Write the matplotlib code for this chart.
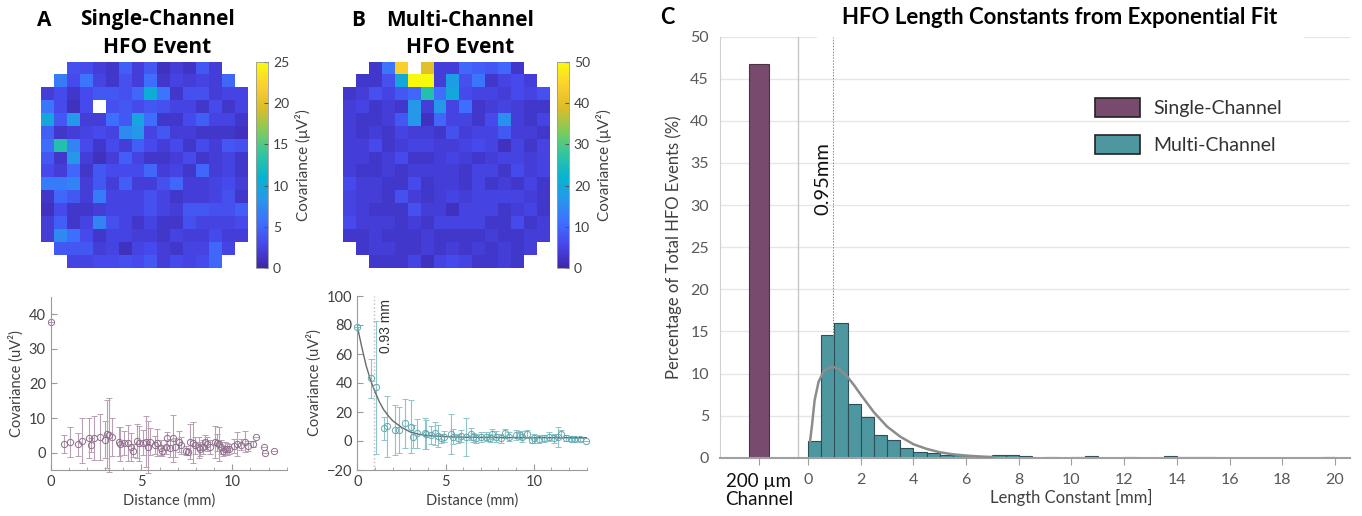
import numpy as np
import matplotlib
matplotlib.use('Agg')
import matplotlib.pyplot as plt
from matplotlib.colors import LinearSegmentedColormap
from matplotlib.patches import Patch
from matplotlib.ticker import MultipleLocator

plt.rcParams['font.family'] = ['Lato', 'DejaVu Sans']

nan = np.nan

# ---- panel A / B heatmaps (16x16 electrode grid, corners empty) ----
single_map = [
    [nan, nan, 3.5, 3, 2, 1.5, 4.5, 2, 4, 1, 2, 1.2, 4, 2, nan, nan],
    [nan, 6.5, 3, 6, 2.5, 1.5, 3.5, 2, 5.5, 1.5, 2.5, 2, 2.5, 2, 5, nan],
    [2, 3, 1.5, 3, 4, 4, 3.5, 5, 10.5, 6, 1.5, 3.5, 3.5, 2, 2.5, 2.5],
    [6, 3, 1, 3, nan, 3.5, 4, 3, 4, 3.5, 2.5, 2.5, 1.5, 3, 1.5, 2.5],
    [10, 4, 8.5, 2, 2, 5.5, 4, 9.5, 5.5, 1.5, 1.5, 3, 4.5, 2.5, 2.5, 1.5],
    [4.5, 1.5, 2, 2.5, 3, 2.5, 7.5, 8.5, 2.5, 4, 2, 2, 1.5, 1.5, 1.5, 1],
    [5.5, 13, 7, 3, 1.5, 3, 2, 4.5, 3, 2, 3, 1.5, 3, 2, 4, 3.5],
    [4, 1.5, 8.5, 2, 1, 2, 4.5, 2.5, 1.5, 1.5, 2, 3, 1.5, 2, 2.5, 1.5],
    [3, 2, 5, 1.5, 4, 3, 3, 3, 5, 2, 2.5, 1.5, 5, 2, 2.5, 1.5],
    [6.5, 6.5, 7, 2, 4, 2, 4.5, 2, 2, 3.5, 5, 2, 2, 2.5, 3, 2],
    [1.5, 5, 4, 2, 6.5, 2.5, 2.5, 2.5, 3.5, 2.5, 1.5, 2, 2, 2.5, 3.5, 1.5],
    [1, 3, 1.5, 1.5, 2, 2.5, 2.5, 2.5, 3.5, 2.5, 2, 4, 4, 3.5, 3.5, 4.5],
    [2, 4.5, 1.5, 2.5, 7, 3.5, 2.5, 1.5, 2.5, 1.5, 1.5, 3.5, 2.5, 2.5, 2.5, 3],
    [2, 7.5, 5.5, 3, 1.5, 2.5, 2.5, 2, 2, 1.5, 2.5, 2, 2, 3, 2, 2],
    [nan, 4, 4, 4, 2, 2.5, 1, 2.5, 3, 2, 1.5, 2.5, 2.5, 5, 2.5, nan],
    [nan, nan, 2.5, 2.5, 3, 3, 3.5, 3, 4, 2, 3, 2.5, 3, 5, nan, nan],
]

multi_map = [
    [nan, nan, 3, 12, 44, nan, 40, 4, 4, 10, 9, 8, 10, 3, nan, nan],
    [nan, 3, 3, 7, 20, 50, 50, 4, 18, 7, 12, 3, 5, 6, 4, nan],
    [3, 4, 7, 5, 8, 10, 26, 11, 20, 6, 5, 5, 4, 6, 5, 7],
    [4, 5, 3, 4, 3, 17, 4, 17, 5, 11, 3, 4, 5, 4, 3, 3],
    [4, 3, 3, 4, 8, 17, 2, 10, 5, 5, 3, 6, 16, 4, 3, 5],
    [4, 3, 4, 3, 5, 4, 4, 3, 7, 4, 5, 5, 8, 4, 4, 3],
    [4, 4, 6, 3, 4, 5, 5, 4, 4, 5, 6, 5, 2, 5, 3, 5],
    [4, 4, 3, 4, 6, 3, 3, 4, 5, 4, 3, 4, 5, 5, 4, 5],
    [4, 3, 3, 4, 3, 4, 4, 4, 4, 3, 5, 5, 3, 6, 4, 5],
    [6, 4, 4, 3, 3, 6, 3, 4, 4, 3, 5, 3, 4, 3, 5, 3],
    [5, 4, 4, 3, 7, 4, 3, 4, 5, 4, 5, 5, 5, 5, 4, 3],
    [5, 4, 3, 3, 3, 7, 4, 4, 2, 5, 5, 5, 3, 4, 5, 3],
    [6, 4, 4, 4, 3, 4, 3, 5, 5, 5, 5, 3, 3, 6, 3, 4],
    [3, 3, 4, 3, 3, 3, 4, 3, 3, 3, 3, 4, 3, 3, 4, 4],
    [nan, 3, 4, 4, 3, 3, 4, 3, 4, 3, 4, 3, 4, 3, 4, nan],
    [nan, nan, 3, 3, 3, 5, 2, 5, 6, 5, 3, 3, 4, 3, nan, nan],
]

# ---- panel A scatter: covariance vs distance ----
dist_a = [0, 0.73, 1.08, 1.5, 1.7, 2.1, 2.24, 2.37, 2.7, 3.0, 3.12, 3.2, 3.38, 3.76,
          3.83, 4.05, 4.27, 4.45, 4.54, 4.74, 4.87, 5.09, 5.27, 5.36, 5.45, 5.75, 5.87,
          6.06, 6.15, 6.33, 6.42, 6.55, 6.75, 6.84, 7.08, 7.2, 7.48, 7.55, 7.7, 7.85,
          7.97, 8.16, 8.25, 8.38, 8.48, 8.6, 8.8, 9.05, 9.16, 9.25, 9.4, 9.5, 9.58, 9.7,
          9.82, 10.07, 10.26, 10.5, 10.7, 10.87, 11.17, 11.3, 11.73, 11.79, 12.3]
cov_a = [37.8, 2.5, 3.1, 2.4, 3.5, 4.2, 2.1, 4.3, 4.6, 3.7, 5.4, 5.1, 4.6, 3.2,
         2.5, 2.7, 2.7, 1.7, 0.6, 3.4, 2.7, 2.9, 3.2, 1.7, 3.2, 2.2, 2.9,
         1.4, 0.4, 1.7, 4.1, 1.3, 4.1, 1.5, 3.2, 2.1, 0.6, 0.3, 3.2, 2.9,
         2.1, 1.5, 1.0, 1.7, 3.2, 2.5, 1.7, 3.1, 2.9, 2.5, 1.7, 0.4, 1.2, 1.0,
         1.0, 2.0, 2.5, 2.3, 3.2, 1.9, 2.5, 4.4, 1.5, 0.0, 0.6]
err_a = [0, 2.5, 4.3, 3.4, 6.6, 5.7, 2.0, 6.3, 6.7, 5.3, 9.8, 10.7, 5.5, 4.3,
         5.0, 3.5, 5.2, 4.0, 1.8, 4.8, 5.0, 3.6, 7.3, 7.5, 4.0, 2.5, 3.9,
         2.2, 1.5, 2.0, 1.8, 2.5, 6.8, 2.8, 3.1, 2.5, 1.2, 1.0, 5.0, 6.0,
         2.5, 3.0, 2.0, 2.0, 2.0, 2.0, 2.0, 4.6, 2.5, 5.0, 2.0, 1.5, 2.0, 1.8,
         1.5, 2.0, 3.6, 1.5, 3.1, 1.5, 1.0, 0, 0, 0, 0]

# ---- panel B scatter + exponential fit ----
dist_b = [0, 0.78, 1.06, 1.5, 1.69, 2.16, 2.35, 2.73, 3.05, 3.16, 3.39, 3.83, 3.9, 4.2,
          4.4, 4.58, 4.77, 4.92, 5.32, 5.44, 5.72, 5.9, 6.14, 6.42, 6.55, 6.7, 6.99,
          7.27, 7.5, 7.65, 7.88, 8.12, 8.37, 8.6, 8.98, 9.2, 9.36, 9.64, 9.92, 10.0,
          10.3, 10.59, 10.87, 11.15, 11.4, 11.53, 11.8, 12.1, 12.35, 12.6, 12.95]
cov_b = [78.4, 43.2, 37.0, 8.7, 10.3, 7.6, 7.6, 12.2, 9.9, 3.0, 5.3, 5.3, 4.6, 4.1,
         5.3, 3.4, 1.8, 3.0, 4.8, 3.0, 1.8, 3.5, 3.0, 4.8, 2.5, 1.8, 3.0,
         3.0, 2.0, 4.8, 3.0, 1.8, 5.3, 3.0, 3.9, 4.1, 3.0, 4.8, 0.7, 1.8,
         1.4, 1.8, 3.0, 1.8, 3.0, 4.8, 1.8, 1.1, 1.1, 1.1, 0.2]
err_b = [0, 13.5, 46.0, 8.0, 21.0, 17.0, 16.0, 17.0, 18.5, 8.0, 10.0, 10.5, 10.0, 6.0,
         8.0, 7.5, 3.0, 4.0, 14.0, 5.0, 3.0, 4.0, 13.0, 4.0, 3.0, 3.0, 3.5,
         3.0, 3.0, 3.5, 4.0, 3.0, 3.0, 3.0, 3.5, 3.0, 4.0, 3.0, 2.0, 3.0,
         2.5, 2.5, 3.0, 3.0, 7.0, 3.0, 2.0, 1.0, 1.0, 1.0, 0]
fit_x_b = [0, 0.25, 0.5, 0.75, 1.0, 1.25, 1.5, 1.75, 2.0, 2.5, 3.0, 3.5, 4.0, 5.0, 6.0, 8.0, 10.0, 13.0]
fit_y_b = [79, 65, 52, 42, 34, 27, 21.5, 17.5, 14, 9.5, 6.2, 4.6, 3.7, 3.0, 2.6, 2.4, 2.3, 2.3]
len_const_b = 0.93

# ---- panel C: length constant histogram ----
single_pct = 46.7
bin_left = np.arange(0, 20, 0.5)
multi_pct = [2.0, 14.6, 16.0, 6.4, 4.8, 2.75, 2.1, 1.2, 0.65, 0.55, 0.35, 0.3, 0.15, 0.1,
             0.3, 0.3, 0.15, 0.0, 0.05, 0.0, 0.05, 0.25, 0.0, 0.0, 0.05, 0.0, 0.0, 0.15,
             0.08, 0.08, 0.08, 0.0, 0.0, 0.0, 0.0, 0.0, 0.0, 0.0, 0.0, 0.1]
fit_x_c = [0.08, 0.15, 0.25, 0.4, 0.6, 0.8, 1.0, 1.2, 1.5, 1.75, 2.0, 2.5, 3.0, 3.5, 4.0,
           4.5, 5.0, 5.5, 6.0, 6.5, 7.0]
fit_y_c = [2.0, 3.8, 6.8, 9.0, 10.3, 10.7, 10.75, 10.5, 9.6, 8.6, 7.5, 5.4, 3.7, 2.5, 1.6,
           1.05, 0.65, 0.4, 0.25, 0.15, 0.08]
len_const_c = 0.95
c_ticks = [0, 2, 4, 6, 8, 10, 12, 14, 16, 18, 20]

# parula-like colormap
parula = LinearSegmentedColormap.from_list('parula', [
    (0.2422, 0.1504, 0.6603), (0.2803, 0.2782, 0.9221), (0.2440, 0.4358, 0.9988),
    (0.1540, 0.5902, 0.9218), (0.0297, 0.7082, 0.8163), (0.1938, 0.7758, 0.6251),
    (0.5044, 0.7993, 0.3480), (0.8634, 0.7406, 0.1596), (0.9892, 0.8136, 0.1885),
    (0.9763, 0.9831, 0.0538)])
parula.set_bad('white')

W, H = 1362, 516
fig = plt.figure(figsize=(W / 100, H / 100), dpi=100)


def px_axes(l, t, r, b):
    return fig.add_axes([l / W, 1 - b / H, (r - l) / W, (b - t) / H])


def ftext(x, y, s, **kw):
    fig.text(x / W, 1 - y / H, s, **kw)


grey = '#404040'
bold = dict(family=['Open Sans', 'DejaVu Sans'], weight='bold', fontsize=15, va='center')

# heatmaps
for data, vmax, (l, r), (cl, cr) in [(single_map, 25, (41, 247), (256, 268)),
                                      (multi_map, 50, (343, 550), (557, 569))]:
    ax = px_axes(l, 62, r, 268)
    im = ax.imshow(np.ma.masked_invalid(np.array(data, dtype=float)), cmap=parula,
                   vmin=0, vmax=vmax, aspect='auto', interpolation='nearest')
    ax.axis('off')
    cax = px_axes(cl, 62, cr, 268)
    cb = fig.colorbar(im, cax=cax)
    cb.set_ticks(np.arange(0, vmax + 1, vmax // 5))
    cb.ax.tick_params(direction='in', length=3, labelsize=10, colors='#555555', labelcolor=grey)
    cb.outline.set_edgecolor('#999999')
    cb.outline.set_linewidth(0.6)
    cb.set_label('Covariance (μV²)', fontsize=11, color=grey, labelpad=4)

ftext(37, 20, 'A', ha='left', **bold)
ftext(157, 20, 'Single-Channel', ha='center', **bold)
ftext(157, 48, 'HFO Event', ha='center', **bold)
ftext(351, 20, 'B', ha='left', **bold)
ftext(460, 20, 'Multi-Channel', ha='center', **bold)
ftext(460, 48, 'HFO Event', ha='center', **bold)


def style_scatter(ax, ylim, yticks):
    ax.set_xlim(0, 13)
    ax.set_ylim(*ylim)
    ax.set_yticks(yticks)
    ax.set_xticks([0, 5, 10])
    ax.xaxis.set_minor_locator(MultipleLocator(1))
    for s in ['top', 'right']:
        ax.spines[s].set_visible(False)
    for s in ['left', 'bottom']:
        ax.spines[s].set_color('#9a9a9a')
        ax.spines[s].set_linewidth(0.8)
    ax.tick_params(which='both', direction='in', colors='#9a9a9a', labelcolor=grey, labelsize=10.5)
    ax.tick_params(which='major', length=4)
    ax.tick_params(which='minor', length=2)
    ax.set_xlabel('Distance (mm)', fontsize=10.5, color=grey, labelpad=3)
    ax.set_ylabel('Covariance (uV²)', fontsize=10.5, color=grey, labelpad=4)


axa = px_axes(50.7, 296.7, 286.7, 470)
axa.errorbar(dist_a, cov_a, yerr=err_a, fmt='o', mfc='none', mec='#8f6f8c', ms=4.5, mew=0.7,
             ecolor='#b79fb4', elinewidth=0.8, capsize=2, capthick=0.7, clip_on=False)
style_scatter(axa, (-5, 45), [0, 10, 20, 30, 40])

axb = px_axes(357.3, 296, 586.7, 470)
axb.axvline(len_const_b, color='#bbbbbb', ls=':', lw=1)
axb.errorbar(dist_b, cov_b, yerr=err_b, fmt='o', mfc='none', mec='#62a9b1', ms=4.5, mew=0.7,
             ecolor='#8fc4c9', elinewidth=0.8, capsize=2, capthick=0.7, clip_on=False)
axb.plot(fit_x_b, fit_y_b, color='#6a6a6a', lw=1.0)
axb.text(1.25, 98, '%.2f mm' % len_const_b, rotation=90, ha='left', va='top',
         fontsize=10, family=['Liberation Sans', 'DejaVu Sans'], color='#333333')
style_scatter(axb, (-20, 100), [-20, 0, 20, 40, 60, 80, 100])

# panel C
single_col = '#784b6e'
multi_col = '#4e96a0'
axc = px_axes(720, 36.7, 1350, 457.7)
axc.set_xlim(-3.34, 20.57)
axc.set_ylim(0, 50)
axc.set_yticks(range(0, 51, 5))
axc.yaxis.grid(True, color='#e6e6e6', lw=1)
axc.set_axisbelow(True)
axc.axhline(50, xmin=0.156, xmax=0.924, color='white', lw=2.5, zorder=1)
axc.axvline(-0.39, color='#c8c8c8', lw=1)
axc.bar(-1.86, single_pct, width=0.73, color=single_col, edgecolor='#4a3344', lw=0.8, zorder=2)
axc.bar(bin_left, multi_pct, width=0.5, align='edge', color=multi_col, edgecolor='#2e4f55',
        lw=0.8, zorder=2)
axc.plot(fit_x_c, fit_y_c, color='#8c8c8c', lw=1.8, zorder=3)
axc.vlines(len_const_c, 0, 50, colors='#888888', linestyles=(0, (1.5, 1.5)), lw=0.7, zorder=3)
axc.text(len_const_c - 0.05, 33.2, '%.2fmm' % len_const_c, rotation=90, ha='right', va='center',
         fontsize=14.5, color='#111111')
for s in ['top', 'right']:
    axc.spines[s].set_visible(False)
axc.spines['left'].set_color('#d0d0d0')
axc.spines['bottom'].set_color('#a0a0a0')
axc.spines['bottom'].set_linewidth(1.5)
axc.tick_params(axis='y', length=0, labelsize=11.5, labelcolor='#595959', pad=8)
axc.set_xticks([-1.86] + c_ticks)
axc.set_xticklabels(['200 µm\nChannel'] + [str(t) for t in c_ticks])
axc.tick_params(axis='x', direction='out', length=5, color='#a0a0a0', labelsize=11.5,
                labelcolor='#595959', pad=6)
lab0 = axc.get_xticklabels()[0]
lab0.set_fontsize(13.5)
lab0.set_color('#111111')
lab0.set_linespacing(1.05)
axc.set_ylabel('Percentage of Total HFO Events (%)', fontsize=12, color='#404040', labelpad=6)
ftext(1071, 497, 'Length Constant [mm]', ha='center', va='center', fontsize=12, color='#404040')

handles = [Patch(facecolor=single_col, edgecolor='#222222', lw=1.2),
           Patch(facecolor=multi_col, edgecolor='#222222', lw=1.2)]
fig.legend(handles, ['Single-Channel', 'Multi-Channel'], loc='upper left',
           bbox_to_anchor=(1095 / W, 1 - 98 / H), frameon=False, fontsize=14,
           handlelength=2.3, handleheight=1.1, handletextpad=0.7, labelspacing=0.95,
           borderpad=0, borderaxespad=0, labelcolor='#333333')

ftext(660, 18, 'C', ha='left', family=['Lato', 'DejaVu Sans'], weight='bold', fontsize=15.5, va='center')
ftext(1060, 18, 'HFO Length Constants from Exponential Fit', ha='center', va='center',
      family=['Lato', 'DejaVu Sans'], weight='bold', fontsize=16)

fig.savefig('out.png', dpi=100)
